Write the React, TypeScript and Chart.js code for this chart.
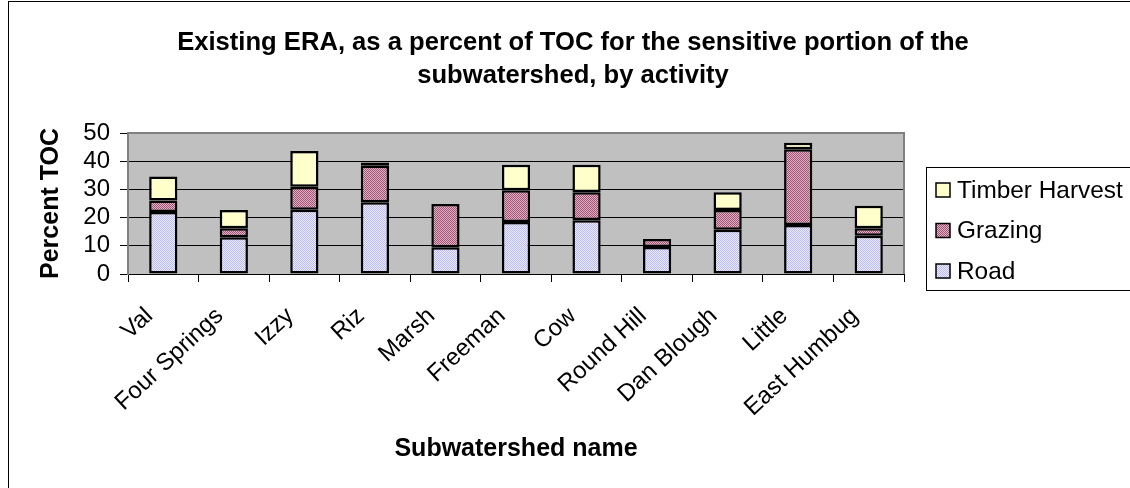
import React, { useEffect, useRef } from "react";
import { Chart, registerables } from "chart.js";

Chart.register(...registerables);

// Subwatersheds and their ERA share (% of TOC) by activity
const categories = [
  "Val",
  "Four Springs",
  "Izzy",
  "Riz",
  "Marsh",
  "Freeman",
  "Cow",
  "Round Hill",
  "Dan Blough",
  "Little",
  "East Humbug",
];
const road = [22, 13, 22.8, 25.4, 9.5, 18.4, 19.1, 9.6, 15.7, 17.4, 13.6];
const grazing = [4.1, 3.2, 8.1, 13, 15.3, 11.3, 9.9, 2.8, 7, 26.8, 2.6];
const timberHarvest = [8.5, 6.5, 12.7, 1.1, 0, 9, 9.7, 0, 6.3, 2.3, 8];
const yTicks = [0, 10, 20, 30, 40, 50];

const titleLines = [
  "Existing ERA, as a percent of TOC for the sensitive portion of the",
  "subwatershed, by activity",
];
const xTitle = "Subwatershed name";
const yTitle = "Percent TOC";

const FONT = '"Liberation Sans", Arial, Helvetica, sans-serif';

function makePattern(fg: string, bg: string, cells: number[][]): CanvasPattern | string {
  const c = document.createElement("canvas");
  const n = cells.length;
  c.width = n;
  c.height = n;
  const g = c.getContext("2d");
  if (!g) return bg;
  for (let y = 0; y < n; y++) {
    for (let x = 0; x < n; x++) {
      g.fillStyle = cells[y][x] ? fg : bg;
      g.fillRect(x, y, 1, 1);
    }
  }
  return g.createPattern(c, "repeat") || bg;
}

export default function App() {
  const canvasRef = useRef<HTMLCanvasElement | null>(null);

  useEffect(() => {
    document.body.style.margin = "0";
    const canvas = canvasRef.current;
    if (!canvas) return;

    const roadFill = makePattern("#B8B8FF", "#EEEEFF", [
      [1, 0],
      [0, 1],
    ]);
    const grazingFill = makePattern("#A45074", "#DDB4C6", [
      [1, 0],
      [0, 1],
    ]);
    const timberFill = "#FFFFCC";

    const legendItems = [
      { label: "Timber Harvest", fill: timberFill },
      { label: "Grazing", fill: grazingFill },
      { label: "Road", fill: roadFill },
    ];

    const decorations = {
      id: "decorations",
      beforeDraw(chart: any) {
        const { ctx, chartArea } = chart;
        ctx.save();
        ctx.fillStyle = "#FFFFFF";
        ctx.fillRect(0, 0, chart.width, chart.height);
        // outer frame
        ctx.strokeStyle = "#000000";
        ctx.lineWidth = 1;
        ctx.strokeRect(8.5, 1.5, 1140, 500);
        // plot area
        ctx.fillStyle = "#C0C0C0";
        ctx.fillRect(
          chartArea.left,
          chartArea.top,
          chartArea.right - chartArea.left,
          chartArea.bottom - chartArea.top
        );
        ctx.restore();
      },
      beforeDatasetsDraw(chart: any) {
        const { ctx, chartArea } = chart;
        ctx.save();
        ctx.strokeStyle = "#808080";
        ctx.lineWidth = 2;
        ctx.beginPath();
        ctx.moveTo(chartArea.left, chartArea.top);
        ctx.lineTo(chartArea.right, chartArea.top);
        ctx.lineTo(chartArea.right, chartArea.bottom);
        ctx.stroke();
        ctx.restore();
      },
      afterDraw(chart: any) {
        const { ctx, chartArea } = chart;
        ctx.save();
        ctx.fillStyle = "#000000";
        // title
        ctx.font = `bold 25.6px ${FONT}`;
        ctx.textAlign = "center";
        ctx.textBaseline = "alphabetic";
        ctx.fillText(titleLines[0], 573, 50);
        ctx.fillText(titleLines[1], 573, 83);
        // x axis title
        ctx.font = `bold 25px ${FONT}`;
        ctx.textBaseline = "middle";
        ctx.fillText(xTitle, (chartArea.left + chartArea.right) / 2, 449);
        // y axis title
        ctx.save();
        ctx.translate(51, (chartArea.top + chartArea.bottom) / 2);
        ctx.rotate(-Math.PI / 2);
        ctx.fillText(yTitle, 0, 0);
        ctx.restore();

        // legend
        const lx = 926;
        const ly = 167;
        ctx.fillStyle = "#FFFFFF";
        ctx.fillRect(lx, ly, 220, 123);
        ctx.strokeStyle = "#000000";
        ctx.lineWidth = 1;
        ctx.strokeRect(lx + 0.5, ly + 0.5, 220, 123);
        ctx.font = `24.4px ${FONT}`;
        ctx.textAlign = "left";
        ctx.textBaseline = "middle";
        legendItems.forEach((item, i) => {
          const cy = 190 + i * 40.5;
          ctx.fillStyle = item.fill as any;
          ctx.fillRect(936, cy - 7, 14, 14);
          ctx.strokeStyle = "#000000";
          ctx.lineWidth = 1.5;
          ctx.strokeRect(936, cy - 7, 14, 14);
          ctx.fillStyle = "#000000";
          ctx.fillText(item.label, 957, cy + 1);
        });
        ctx.restore();
      },
    };

    const chart = new Chart(canvas, {
      type: "bar",
      data: {
        labels: categories,
        datasets: [
          { label: "Road", data: road, backgroundColor: roadFill as any },
          { label: "Grazing", data: grazing, backgroundColor: grazingFill as any },
          { label: "Timber Harvest", data: timberHarvest, backgroundColor: timberFill },
        ].map((d) => ({
          ...d,
          borderColor: "#000000",
          borderWidth: 2.5,
          borderSkipped: false,
          categoryPercentage: 1,
          barPercentage: 0.4,
        })),
      },
      plugins: [decorations],
      options: {
        animation: false,
        responsive: false,
        maintainAspectRatio: false,
        events: [],
        layout: { padding: { left: 0, right: 226, top: 133, bottom: 0 } },
        plugins: {
          legend: { display: false },
          title: { display: false },
          tooltip: { enabled: false },
        },
        scales: {
          x: {
            stacked: true,
            offset: true,
            grid: {
              offset: true,
              drawOnChartArea: false,
              drawTicks: true,
              tickLength: 8,
              color: "#000000",
              tickColor: "#000000",
            },
            border: { display: true, color: "#000000", width: 1 },
            ticks: {
              font: { family: FONT, size: 24 },
              color: "#000000",
              maxRotation: 43,
              minRotation: 43,
              autoSkip: false,
              padding: 20,
              labelOffset: -14,
            },
            afterFit(scale: any) {
              scale.height = 214;
            },
          },
          y: {
            stacked: true,
            min: 0,
            max: 50,
            afterBuildTicks(scale: any) {
              scale.ticks = yTicks.map((v) => ({ value: v }));
            },
            grid: {
              drawTicks: true,
              tickLength: 8,
              color: (c: any) => (c.tick && c.tick.value === 50 ? "#808080" : "#000000"),
              tickColor: "#000000",
              lineWidth: 1,
            },
            border: { display: true, color: "#808080", width: 2 },
            ticks: {
              font: { family: FONT, size: 24 },
              color: "#000000",
              padding: 10,
              autoSkip: false,
            },
            afterFit(scale: any) {
              scale.width = 128;
            },
          },
        },
      },
    });

    return () => chart.destroy();
  }, []);

  return <canvas ref={canvasRef} width={1130} height={488} style={{ display: "block" }} />;
}
